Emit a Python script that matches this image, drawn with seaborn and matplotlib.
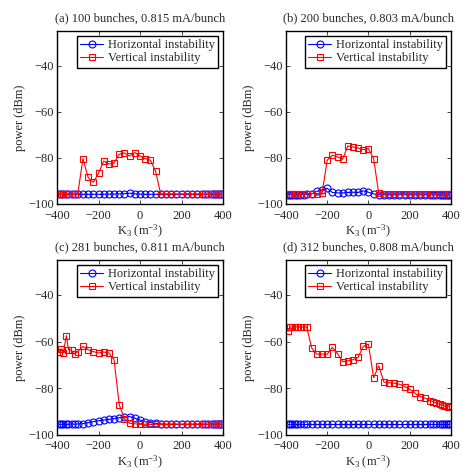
import numpy as np
import matplotlib
matplotlib.use("Agg")
import matplotlib.pyplot as plt
import seaborn as sns

FONTSIZE = 9

# K3 scan points (m^-3), shared by all four runs
k3 = [-390, -380, -370, -355, -345, -330, -315, -300,
      -275, -250, -225, -200, -175, -150, -125, -100, -75, -50, -25,
      0, 25, 50, 75, 100, 125, 150, 175, 200, 225, 250, 275,
      300, 315, 330, 345, 355, 365, 375, 385, 390]

titles = ["(a) 100 bunches, 0.815 mA/bunch",
          "(b) 200 bunches, 0.803 mA/bunch",
          "(c) 281 bunches, 0.811 mA/bunch",
          "(d) 312 bunches, 0.808 mA/bunch"]

# (a) 100 bunches
horiz_a = [-95.8, -95.8, -95.8, -95.8, -95.8, -95.8, -95.8, -95.8,
           -95.8, -95.8, -95.8, -95.8, -95.8, -95.7, -95.7, -95.6, -95.5, -95.3, -95.6,
           -95.7, -95.8, -95.8, -95.8, -95.8, -95.8, -95.8, -95.8, -95.8, -95.8, -95.8, -95.8,
           -95.8, -95.8, -95.8, -95.8, -95.8, -95.8, -95.8, -95.8, -95.8]
vert_a = [-95.7, -95.7, -95.7, -95.7, -95.7, -95.7, -95.7, -95.7,
          -80.3, -88.5, -90.6, -86.7, -81.4, -82.7, -82.2, -78.4, -77.9, -79.2, -77.7,
          -79.2, -80.3, -81.0, -85.8, -95.7, -95.7, -95.7, -95.7, -95.7, -95.6, -95.7, -95.7,
          -95.7, -95.7, -95.7, -95.7, -95.7, -95.7, -95.7, -95.7, -95.7]

# (b) 200 bunches
horiz_b = [-95.9, -95.9, -95.9, -95.9, -95.9, -95.9, -95.9, -95.8,
           -95.6, -94.5, -93.8, -93.2, -95.0, -95.2, -95.2, -95.0, -94.9, -95.0, -94.3,
           -94.9, -95.6, -96.0, -96.0, -96.0, -96.0, -96.0, -96.0, -96.0, -96.0, -96.0, -96.0,
           -96.0, -96.0, -96.0, -96.0, -96.0, -96.0, -96.0, -96.0, -96.0]
vert_b = [-95.5, -95.5, -95.5, -95.5, -95.5, -95.5, -95.5, -95.5,
          -95.5, -95.5, -95.4, -81.0, -78.9, -79.6, -80.6, -74.8, -75.3, -75.7, -76.4,
          -76.0, -80.3, -95.4, -95.5, -95.5, -95.5, -95.5, -95.5, -95.5, -95.5, -95.5, -95.5,
          -95.5, -95.5, -95.5, -95.5, -95.5, -95.5, -95.5, -95.5, -95.5]

# (c) 281 bunches
horiz_c = [-95.5, -95.6, -95.5, -95.6, -95.5, -95.4, -95.5, -95.4,
           -95.2, -94.8, -94.4, -94.0, -93.7, -93.4, -93.1, -92.7, -92.5, -92.2, -92.9,
           -93.7, -94.4, -94.8, -95.1, -95.4, -95.5, -95.5, -95.5, -95.5, -95.5, -95.5, -95.5,
           -95.5, -95.5, -95.5, -95.5, -95.5, -95.5, -95.5, -95.5, -95.5]
vert_c = [-64.3, -63.1, -64.9, -57.4, -63.5, -63.8, -65.4, -64.3,
          -62.1, -63.5, -64.3, -64.9, -64.5, -64.9, -67.8, -87.2, -93.2, -95.1, -95.3,
          -95.5, -95.5, -95.6, -95.5, -95.5, -95.6, -95.5, -95.5, -95.5, -95.6, -95.5, -95.5,
          -95.5, -95.5, -95.5, -95.5, -95.5, -95.5, -95.5, -95.5, -95.5]

# (d) 312 bunches
horiz_d = [-95.6, -95.6, -95.6, -95.6, -95.6, -95.6, -95.6, -95.6,
           -95.6, -95.6, -95.6, -95.6, -95.6, -95.6, -95.6, -95.6, -95.6, -95.6, -95.6,
           -95.6, -95.6, -95.6, -95.6, -95.6, -95.6, -95.6, -95.6, -95.6, -95.6, -95.6, -95.6,
           -95.6, -95.6, -95.6, -95.6, -95.6, -95.6, -95.6, -95.6, -95.6]
vert_d = [-55.6, -53.7, -53.7, -53.6, -53.7, -53.8, -53.8, -53.7,
          -62.8, -65.4, -65.4, -65.4, -62.5, -65.2, -68.6, -68.3, -67.8, -66.7, -62.1,
          -61.1, -75.5, -70.4, -77.4, -77.7, -77.9, -78.3, -79.3, -80.4, -82.2, -83.6, -84.3,
          -85.4, -85.8, -86.4, -86.9, -87.2, -87.5, -87.8, -88.0, -87.6]

horiz = [horiz_a, horiz_b, horiz_c, horiz_d]
vert = [vert_a, vert_b, vert_c, vert_d]

sns.set_style("ticks")
plt.rcParams["font.family"] = ["Liberation Serif", "DejaVu Serif"]
plt.rcParams["mathtext.fontset"] = "custom"
plt.rcParams["mathtext.rm"] = "Liberation Serif"
plt.rcParams["mathtext.it"] = "Liberation Serif:italic"
plt.rcParams["axes.linewidth"] = 1.0
plt.rcParams["xtick.direction"] = "in"
plt.rcParams["ytick.direction"] = "in"

fig = plt.figure(figsize=(4.62, 4.72), dpi=100)
positions = [[0.1234, 0.5678, 0.3593, 0.3665],
             [0.619, 0.5678, 0.357, 0.3665],
             [0.1234, 0.079, 0.3593, 0.370],
             [0.619, 0.079, 0.357, 0.370]]

for i in range(4):
    ax = fig.add_axes(positions[i])
    sns.lineplot(x=k3, y=horiz[i], ax=ax, color="blue", marker="o",
                 markerfacecolor="none", markeredgecolor="blue", markersize=5,
                 markeredgewidth=0.8, linewidth=0.8, label="Horizontal instability")
    sns.lineplot(x=k3, y=vert[i], ax=ax, color="red", marker="s",
                 markerfacecolor="none", markeredgecolor="red", markersize=5,
                 markeredgewidth=0.8, linewidth=0.8, label="Vertical instability")
    ax.set_xlim(-400, 400)
    ax.set_ylim(-100, -25)
    ax.set_xticks([-400, -200, 0, 200, 400])
    ax.set_yticks([-100, -80, -60, -40])
    ax.tick_params(labelsize=FONTSIZE, top=True, right=True, length=3, width=0.6)
    ax.tick_params(axis="x", pad=4)
    ax.tick_params(axis="y", pad=2)
    ax.set_xlabel("K$_3$ (m$^{-3}$)", fontsize=FONTSIZE, labelpad=1)
    ax.set_ylabel("power (dBm)", fontsize=FONTSIZE, labelpad=2)
    ax.set_title(titles[i], fontsize=FONTSIZE, pad=7)
    leg = ax.legend(loc="upper right", fontsize=FONTSIZE, fancybox=False,
                    edgecolor="black", framealpha=1, handlelength=1.8,
                    labelspacing=0.1, borderpad=0.25, borderaxespad=0.4,
                    handletextpad=0.4)
    leg.get_frame().set_linewidth(1.0)
    for spine in ax.spines.values():
        spine.set_color("black")

fig.savefig("out.png", dpi=100)
